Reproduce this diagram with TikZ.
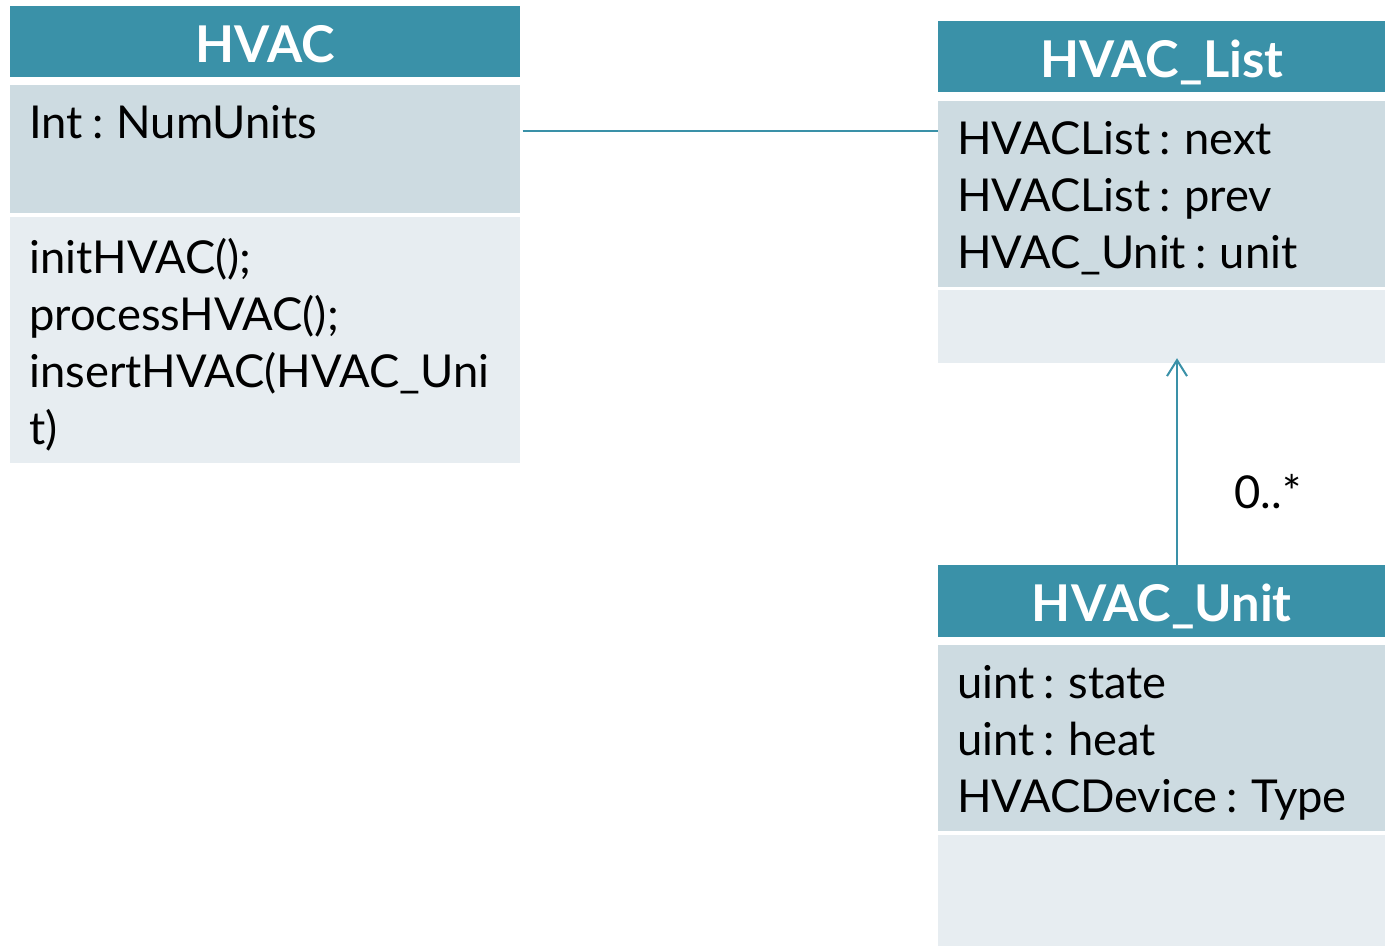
\documentclass[tikz,border=0pt]{standalone}
\usepackage{fontspec}
\setmainfont{Lato}[WordSpace=0.8]
\usetikzlibrary{arrows.meta}

\definecolor{umlhead}{HTML}{3A91A8}
\definecolor{umlattr}{HTML}{CDDBE1}
\definecolor{umlops}{HTML}{E7EDF1}

\tikzset{
  headbox/.style={fill=umlhead, draw=none, anchor=north west, inner sep=0pt, text=white,
    text height=31pt, text depth=0pt, font=\fontsize{38}{44}\selectfont\bfseries},
  attrbox/.style={fill=umlattr, draw=none, anchor=north west, inner sep=0pt},
  opsbox/.style={fill=umlops, draw=none, anchor=north west, inner sep=0pt},
  members/.style={anchor=north west, inner sep=0pt, align=left,
    font=\fontsize{34}{42.75}\selectfont},
  link/.style={draw=umlhead, line width=1.5pt},
}

\begin{document}
\begin{tikzpicture}[x=0.75pt,y=0.75pt,yscale=-1,xscale=1]
  \useasboundingbox (0,0) rectangle (1385,946);

  % class HVAC
  \node[headbox, minimum width=510*0.75pt, minimum height=71*0.75pt] (hvachead) at (10,6) {HVAC};
  \node[attrbox, minimum width=510*0.75pt, minimum height=128*0.75pt] (hvacattr) at (10,85) {};
  \node[opsbox, minimum width=510*0.75pt, minimum height=246*0.75pt] (hvacops) at (10,217) {};
  \node[members] (hvacattrtxt) at (29,105) {Int : NumUnits};
  \node[members] (hvacopstxt) at (29,238) {initHVAC();\\processHVAC();\\insertHVAC(HVAC\_Uni\\t)};

  % class HVAC_List
  \node[headbox, minimum width=447*0.75pt, minimum height=71*0.75pt] (listhead) at (938,21) {HVAC\_List};
  \node[attrbox, minimum width=447*0.75pt, minimum height=186*0.75pt] (listattr) at (938,101) {};
  \node[opsbox, minimum width=447*0.75pt, minimum height=73*0.75pt] (listops) at (938,290) {};
  \node[members] (listattrtxt) at (957,121) {HVACList : next\\HVACList : prev\\HVAC\_Unit : unit};

  % class HVAC_Unit
  \node[headbox, minimum width=447*0.75pt, minimum height=72*0.75pt] (unithead) at (938,565) {HVAC\_Unit};
  \node[attrbox, minimum width=447*0.75pt, minimum height=186*0.75pt] (unitattr) at (938,645) {};
  \node[opsbox, minimum width=447*0.75pt, minimum height=111*0.75pt] (unitops) at (938,835) {};
  \node[members] (unitattrtxt) at (957,665) {uint : state\\uint : heat\\HVACDevice : Type};

  % associations
  \coordinate (assoc) at (0,131);
  \coordinate (aggr) at (1177,0);
  \draw[link] ([xshift=1.5pt]hvacattr.east |- assoc) -- (listattr.west |- assoc);
  \draw[link, -{Straight Barb[length=12pt, width=15pt, line width=1.5pt]}, shorten >=-4pt]
    (unithead.north -| aggr) -- (listops.south -| aggr);
  \node[members, anchor=center] (mult) at (1268,492) {0..*};
\end{tikzpicture}
\end{document}
